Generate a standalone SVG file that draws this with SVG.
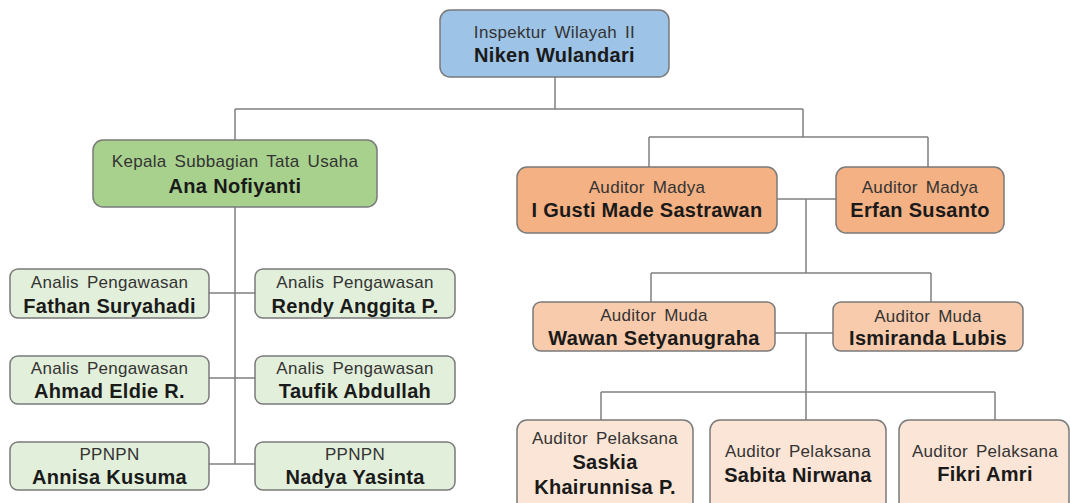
<svg xmlns="http://www.w3.org/2000/svg" width="1070" height="503" viewBox="0 0 1070 503">
<style>
.box{stroke:#7a7a7a;stroke-width:1.5}
.blue{fill:#9DC3E6}
.green{fill:#A9D18E}
.lgreen{fill:#E2EFDA}
.madya{fill:#F4B183}
.muda{fill:#F8CBAD}
.pel{fill:#FBE5D6}
.r{font-family:"Liberation Sans",Arial,sans-serif;font-size:17px;fill:#333;text-anchor:middle;letter-spacing:0.3px;word-spacing:3px}
.b{font-family:"Liberation Sans",Arial,sans-serif;font-size:20px;font-weight:bold;fill:#1a1a1a;text-anchor:middle;letter-spacing:0.3px}
.ln{fill:none;stroke:#808080;stroke-width:1.5}
</style>
<rect width="1070" height="503" fill="#fff"/>
<g id="connectors" class="ln">
<path d="M555 77V109M235 109H803M235 109V140M803 109V137M649 137H928M649 137V167M928 137V167"/>
<path d="M777 199H836M806 199V273M651 273H931M651 273V302M931 273V302"/>
<path d="M775 333H833M806 333V392M601 392H995M601 392V420M806 392V420M995 392V420"/>
<path d="M235 207V464M209 293H255M209 378H255M209 464H255"/>
</g>
<g id="inspektur"><rect class="box blue" x="440" y="10" width="229" height="67" rx="10"/><text class="r" x="554.5" y="38">Inspektur Wilayah II</text><text class="b" x="554.5" y="62">Niken Wulandari</text></g>
<g id="kepala"><rect class="box green" x="93" y="140" width="284" height="67" rx="10"/><text class="r" x="235" y="167">Kepala Subbagian Tata Usaha</text><text class="b" x="235" y="193">Ana Nofiyanti</text></g>
<g id="gusti"><rect class="box madya" x="517" y="167" width="260" height="66" rx="10"/><text class="r" x="647" y="193">Auditor Madya</text><text class="b" x="647" y="217">I Gusti Made Sastrawan</text></g>
<g id="erfan"><rect class="box madya" x="836" y="167" width="168" height="66" rx="10"/><text class="r" x="920" y="193">Auditor Madya</text><text class="b" x="920" y="217">Erfan Susanto</text></g>
<g id="wawan"><rect class="box muda" x="533" y="302" width="242" height="49" rx="8"/><text class="r" x="654" y="321">Auditor Muda</text><text class="b" x="654" y="345">Wawan Setyanugraha</text></g>
<g id="ismiranda"><rect class="box muda" x="833" y="302" width="190" height="49" rx="8"/><text class="r" x="928" y="322">Auditor Muda</text><text class="b" x="928" y="345">Ismiranda Lubis</text></g>
<g id="saskia"><rect class="box pel" x="517" y="420" width="176" height="92" rx="10"/><text class="r" x="605" y="444">Auditor Pelaksana</text><text class="b" x="605" y="469">Saskia</text><text class="b" x="605" y="494">Khairunnisa P.</text></g>
<g id="sabita"><rect class="box pel" x="710" y="420" width="176" height="92" rx="10"/><text class="r" x="798" y="457">Auditor Pelaksana</text><text class="b" x="798" y="482">Sabita Nirwana</text></g>
<g id="fikri"><rect class="box pel" x="899" y="420" width="170" height="92" rx="10"/><text class="r" x="985" y="457">Auditor Pelaksana</text><text class="b" x="985" y="481">Fikri Amri</text></g>
<g id="fathan"><rect class="box lgreen" x="10" y="269" width="199" height="49" rx="8"/><text class="r" x="109.5" y="288">Analis Pengawasan</text><text class="b" x="109.5" y="313">Fathan Suryahadi</text></g>
<g id="rendy"><rect class="box lgreen" x="255" y="269" width="200" height="49" rx="8"/><text class="r" x="355" y="288">Analis Pengawasan</text><text class="b" x="355" y="313">Rendy Anggita P.</text></g>
<g id="ahmad"><rect class="box lgreen" x="10" y="356" width="199" height="48" rx="8"/><text class="r" x="109.5" y="374">Analis Pengawasan</text><text class="b" x="109.5" y="398">Ahmad Eldie R.</text></g>
<g id="taufik"><rect class="box lgreen" x="255" y="356" width="200" height="48" rx="8"/><text class="r" x="355" y="374">Analis Pengawasan</text><text class="b" x="355" y="398">Taufik Abdullah</text></g>
<g id="annisa"><rect class="box lgreen" x="10" y="442" width="199" height="48" rx="8"/><text class="r" x="109.5" y="460">PPNPN</text><text class="b" x="109.5" y="484">Annisa Kusuma</text></g>
<g id="nadya"><rect class="box lgreen" x="255" y="442" width="200" height="48" rx="8"/><text class="r" x="355" y="460">PPNPN</text><text class="b" x="355" y="484">Nadya Yasinta</text></g>
</svg>
